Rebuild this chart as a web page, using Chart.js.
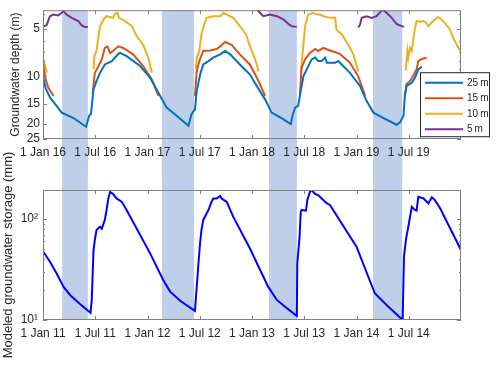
<!DOCTYPE html>
<html>
<head>
<meta charset="utf-8">
<script src="https://cdn.jsdelivr.net/npm/chart.js@4"></script>
<style>
    body { margin: 0; background: #ffffff; }
    #wrap { position: relative; width: 500px; height: 366px; }
    #depth_chart { position: absolute; left: 0; top: 0; z-index: 2; }
    #storage_chart { position: absolute; left: 0; top: 140px; z-index: 1; }
</style>
</head>
<body>
<div id="wrap">
    <canvas id="depth_chart" width="500" height="175"></canvas>
    <canvas id="storage_chart" width="500" height="226"></canvas>
</div>
<script>
// x values are months counted from 1 Jan of the first year of each panel
// (top panel starts 1 Jan 2016, bottom panel starts 1 Jan 2011)
const tick_months = [0, 6, 12, 18, 24, 30, 36, 42]
const depth_tick_labels = ["1 Jan 16", "1 Jul 16", "1 Jan 17", "1 Jul 17", "1 Jan 18", "1 Jul 18", "1 Jan 19", "1 Jul 19"]
const storage_tick_labels = ["1 Jan 11", "1 Jul 11", "1 Jan 12", "1 Jul 12", "1 Jan 13", "1 Jul 13", "1 Jan 14", "1 Jul 14"]

const depth_ticks = [5, 10, 15, 20, 25]
const storage_ticks = [10, 100]
const storage_tick_text = ["10\u00b9", "10\u00b2"]

// shaded periods, [start, end] in months (same positions on both panels)
const shaded_months = [[2.2, 5.15], [13.65, 17.35], [25.95, 29.15], [37.9, 41.25]]

const depth_labels = ["25\u2009m", "15\u2009m", "10\u2009m", "5\u2009m"]
const depth_colours = ["#0072BD", "#D95319", "#EDB120", "#7E2F8E"]

// groundwater depth (m) per sensor depth, [month, depth]; null depth = gap in record
const depth_25m = [
    [0.0, 10.0], [0.3, 11.9], [0.8, 13.6], [1.4, 15.0], [2.15, 17.0], [3.5, 18.4], [4.95, 20.9],
    [5.3, 17.8], [5.5, 17.4], [5.8, 12.1], [6.15, 10.7], [6.55, 9.5], [7.1, 8.4], [7.9, 8.0],
    [8.65, 7.2], [8.85, 7.1], [9.6, 7.45], [11.15, 8.6], [12.3, 10.2], [13.25, 12.7], [14.2, 15.8],
    [15.35, 17.8], [16.7, 20.6], [17.05, 17.4], [17.45, 16.2], [17.65, 12.4], [18.05, 9.7],
    [18.4, 8.4], [19.0, 8.0], [19.55, 7.6], [20.35, 7.25], [20.9, 6.9], [21.5, 7.25], [22.6, 8.4],
    [23.75, 9.7], [24.55, 11.5], [25.5, 14.0], [26.25, 17.0], [27.4, 18.4], [28.45, 20.1],
    [28.65, 17.8], [28.95, 15.8], [29.3, 15.4], [29.5, 13.3], [29.9, 10.0], [30.3, 9.0],
    [30.85, 7.8], [31.25, 7.6], [31.6, 8.0], [32.0, 8.0], [32.4, 7.6], [32.6, 8.2], [33.55, 8.2],
    [33.9, 8.0], [34.3, 8.4], [35.25, 9.5], [36.4, 11.5], [37.15, 14.3], [37.95, 17.0],
    [39.1, 18.4], [40.6, 20.3], [41.0, 19.6], [41.4, 17.8], [41.55, 13.3], [41.75, 11.5],
    [42.35, 11.0], [42.7, 10.2], [43.1, 9.0], [43.5, 8.7],
]
const depth_15m = [
    [0.0, 8.2], [0.3, 10.45], [0.6, 11.8], [1.2, 13.3], [3, null],
    [5.7, 13.0], [5.95, 9.5], [6.3, 8.8], [6.75, 7.8], [7.1, 6.6], [7.4, 6.45], [7.7, 7.1],
    [8.05, 6.9], [8.65, 6.45], [9.2, 6.6], [10.35, 7.25], [11.5, 8.6], [12.5, 10.45], [13.25, 13.3],
    [15, null],
    [17.45, 13.3], [17.65, 9.3], [17.95, 8.0], [18.4, 6.9], [19.2, 6.85], [19.95, 6.7],
    [20.35, 6.45], [20.9, 6.05], [21.65, 6.3], [22.6, 7.25], [23.75, 8.4], [24.75, 10.7],
    [25.5, 13.3], [27, null],
    [29.5, 13.0], [29.7, 8.8], [30.1, 7.8], [30.65, 7.1], [31.25, 6.7], [31.6, 6.9], [32.2, 6.6],
    [32.95, 6.85], [34.1, 7.2], [35.25, 8.2], [36.2, 10.0], [37.0, 13.3], [39, null],
    [41.55, 13.3], [41.75, 11.2], [42.15, 10.7], [42.55, 9.8], [42.9, 9.0], [43.1, 8.0],
    [43.5, 7.75], [44.05, 7.6],
]
const depth_10m = [
    [0.0, 7.6], [0.25, 8.6], [0.45, 9.5], [3, null],
    [5.8, 9.0], [5.9, 7.45], [6.15, 6.9], [6.35, 5.7], [6.55, 4.8], [6.95, 4.35], [7.3, 4.15],
    [7.7, 4.2], [8.05, 4.25], [8.25, 4.0], [8.55, 3.95], [8.75, 4.25], [9.4, 4.45], [10.2, 4.8],
    [10.75, 5.55], [11.5, 6.3], [12.1, 7.6], [12.5, 9.5], [15, null],
    [17.55, 9.0], [17.65, 7.6], [17.95, 6.9], [18.2, 5.4], [18.5, 4.7], [18.8, 4.25],
    [19.55, 4.15], [20.35, 4.15], [20.7, 3.95], [21.1, 4.05], [21.85, 4.25], [22.6, 4.8],
    [23.3, 5.4], [23.8, 6.5], [24.5, 8.2], [24.75, 9.3], [27, null],
    [29.6, 9.5], [29.8, 7.25], [30.1, 4.8], [30.45, 4.05], [31.05, 3.95], [31.45, 4.05],
    [31.8, 4.05], [32.2, 4.15], [32.95, 4.25], [33.55, 4.25], [33.7, 5.05], [34.3, 5.4],
    [35.05, 6.3], [35.65, 7.25], [36.2, 9.3], [39, null],
    [41.65, 9.2], [41.85, 6.9], [41.95, 7.6], [42.15, 6.6], [42.35, 6.9], [42.55, 5.7],
    [42.7, 5.05], [42.9, 4.45], [43.3, 4.5], [43.7, 4.45], [44.05, 4.6], [44.25, 4.8],
    [44.8, 4.45], [45.4, 4.2], [45.95, 4.45], [46.75, 5.05], [47.1, 5.7], [47.7, 6.6], [48, 6.9],
]
const depth_5m = [
    [0.0, 4.8], [0.4, 4.75], [0.8, 4.15], [1.2, 4.05], [1.75, 4.1], [2.15, 3.95], [2.35, 3.86],
    [2.7, 4.05], [3.3, 4.25], [4.05, 4.45], [4.45, 4.75], [4.8, 4.85], [5.15, 4.85], [10, null],
    [24.4, 3.6], [24.75, 3.86], [25.3, 4.15], [26.05, 4.05], [26.85, 4.15], [27.6, 4.35],
    [28.2, 4.65], [28.55, 4.8], [29.15, 4.85], [33, null],
    [36.2, 4.9], [36.4, 4.7], [36.6, 4.25], [37.15, 4.15], [37.75, 4.25], [38.3, 4.15],
    [39.0, 3.77], [39.45, 3.95], [40.05, 4.25], [40.6, 4.65], [41.0, 4.75], [41.45, 4.85],
]

// modeled groundwater storage (mm), [month, storage]
const storage_mm = [
    [0.0, 48], [0.8, 37.8], [1.55, 29], [2.35, 21.4], [3.1, 17.7], [4.25, 14.4], [5.45, 11.8],
    [5.6, 15.8], [5.8, 49], [5.95, 62], [6.15, 78], [6.35, 81], [6.55, 84], [6.75, 80], [6.95, 90],
    [7.1, 98], [7.3, 123], [7.5, 160], [7.7, 186], [8.05, 177], [8.45, 160], [9.05, 148],
    [9.6, 123], [12.3, 45.7], [13.8, 24.9], [14.6, 19.1], [15.75, 15.5], [17.45, 12.3],
    [17.85, 36.4], [18.05, 59.6], [18.2, 78], [18.4, 98], [18.8, 114], [19.0, 123], [19.35, 148],
    [19.55, 160], [19.95, 160], [20.35, 169], [20.5, 160], [21.1, 148], [21.85, 105],
    [23.75, 51.3], [25.85, 21.4], [26.85, 15.8], [28.0, 13.1], [29.15, 10.96], [29.2, 36.4],
    [29.45, 64.4], [29.6, 118], [29.7, 123], [30.2, 121], [30.35, 154], [30.65, 186],
    [30.85, 194], [31.25, 177], [31.6, 173], [32.0, 160], [32.6, 143], [32.95, 138],
    [36.0, 53.2], [38.1, 18.4], [39.45, 14.1], [41.3, 10.0], [41.45, 42.4], [41.7, 64.4],
    [41.95, 84], [42.35, 132], [42.7, 123], [42.9, 121], [43.1, 166], [43.7, 160], [44.25, 143],
    [44.65, 164], [45.0, 154], [45.6, 128], [48, 49.3],
]

const axis_colour = "#808080"
const text_colour = "#262626"
const band_colour = "#bfcfea"

Chart.defaults.font.family = "'Liberation Sans', Arial, sans-serif"
Chart.defaults.font.size = 12
Chart.defaults.color = text_colour


function line_dataset(label, data, colour)
{
    return {
        label: label,
        data: data,
        borderColor: colour,
        borderWidth: 2,
        pointRadius: 0,
        tension: 0,
        fill: false,
        spanGaps: false,
    }
}

function month_axis(labels, height)
{
    return {
        type: "linear",
        min: 0,
        max: 48,
        afterBuildTicks: axis => { axis.ticks = tick_months.map(value => ({ value })) },
        afterFit: axis => { axis.height = height },
        grid: { display: false, drawTicks: false },
        border: { display: false },
        ticks: {
            padding: 6,
            maxRotation: 0,
            autoSkip: false,
            callback: (value, index) => labels[index],
        },
    }
}

// light blue periods drawn behind everything; they run on through the gap between panels
// (the top canvas sits in front, so its tick labels stay above the bottom canvas' bands)
function shading_plugin(to_canvas_top, to_canvas_bottom)
{
    return {
        id: "shading",
        beforeDraw(chart)
        {
            const { ctx, chartArea, scales: { x } } = chart
            const y0 = to_canvas_top ? 0 : chartArea.top
            const y1 = to_canvas_bottom ? chart.height : chartArea.bottom
            ctx.save()
            ctx.fillStyle = band_colour
            shaded_months.forEach(([start, end]) => {
                const x0 = x.getPixelForValue(start)
                const x1 = x.getPixelForValue(end)
                ctx.fillRect(x0, y0, x1 - x0, y1 - y0)
            })
            ctx.restore()
        }
    }
}

// box round the plot, with tick marks pointing inwards on all four sides
const box_plugin = {
    id: "axis_box",
    afterDraw(chart)
    {
        const { ctx, chartArea: { left, right, top, bottom }, scales: { x, y } } = chart
        ctx.save()
        ctx.strokeStyle = axis_colour
        ctx.lineWidth = 1
        ctx.strokeRect(left + 0.5, top + 0.5, right - left - 1, bottom - top - 1)
        ctx.beginPath()
        x.ticks.forEach(tick => {
            const px = Math.round(x.getPixelForValue(tick.value)) + 0.5
            ctx.moveTo(px, bottom)
            ctx.lineTo(px, bottom - 4)
            ctx.moveTo(px, top)
            ctx.lineTo(px, top + 4)
        })
        const majors = y.ticks.map(tick => tick.value)
        const mark = (value, length) => {
            const py = Math.round(y.getPixelForValue(value)) + 0.5
            ctx.moveTo(left, py)
            ctx.lineTo(left + length, py)
            ctx.moveTo(right, py)
            ctx.lineTo(right - length, py)
        }
        majors.forEach(value => mark(value, 4))
        const low = Math.min(y.min, y.max)
        const high = Math.max(y.min, y.max)
        for (let e = Math.floor(Math.log10(low)); e <= Math.ceil(Math.log10(high)); ++e)
        {
            for (let k = 1; k <= 9; ++k)
            {
                const value = k * Math.pow(10, e)
                if (value > low && value < high && !majors.includes(value))
                {
                    mark(value, 2)
                }
            }
        }
        ctx.stroke()
        ctx.restore()
    }
}

const legend_plugin = {
    id: "depth_legend",
    afterDraw(chart)
    {
        const { ctx, chartArea } = chart
        const box_left = chartArea.right - 41
        const box_top = chartArea.top + 62
        ctx.save()
        ctx.fillStyle = "#ffffff"
        ctx.fillRect(box_left, box_top, 70, 65)
        ctx.strokeStyle = text_colour
        ctx.lineWidth = 1
        ctx.strokeRect(box_left + 0.5, box_top + 0.5, 69, 64)
        ctx.font = "10px 'Liberation Sans', Arial, sans-serif"
        ctx.textBaseline = "middle"
        ctx.textAlign = "left"
        chart.data.datasets.forEach((dataset, i) => {
            const row_y = box_top + 10.5 + i * 15.5
            ctx.strokeStyle = dataset.borderColor
            ctx.lineWidth = 2
            ctx.beginPath()
            ctx.moveTo(box_left + 5, row_y)
            ctx.lineTo(box_left + 43, row_y)
            ctx.stroke()
            ctx.fillStyle = text_colour
            ctx.fillText(dataset.label, box_left + 47, row_y + 0.5)
        })
        ctx.restore()
    }
}


new Chart(document.getElementById("depth_chart"), {
    type: "line",
    data: {
        datasets: [
            line_dataset(depth_labels[0], depth_25m, depth_colours[0]),
            line_dataset(depth_labels[1], depth_15m, depth_colours[1]),
            line_dataset(depth_labels[2], depth_10m, depth_colours[2]),
            line_dataset(depth_labels[3], depth_5m, depth_colours[3]),
        ]
    },
    options: {
        responsive: false,
        animation: false,
        events: [],
        layout: { padding: { left: 0, right: 39, top: 9, bottom: 0 } },
        plugins: { legend: { display: false }, tooltip: { enabled: false } },
        scales: {
            x: month_axis(depth_tick_labels, 36),
            y: {
                type: "logarithmic",
                reverse: true,
                min: 3.8,
                max: 25,
                afterBuildTicks: axis => { axis.ticks = depth_ticks.map(value => ({ value })) },
                afterFit: axis => { axis.width = 43 },
                grid: { display: false, drawTicks: false },
                border: { display: false },
                ticks: { padding: 3, autoSkip: false, callback: value => String(value) },
                title: {
                    display: true,
                    text: "Groundwater depth (m)",
                    font: { size: 12 },
                    padding: { top: 8, bottom: 0 },
                },
            }
        }
    },
    plugins: [shading_plugin(false, true), box_plugin, legend_plugin]
})

new Chart(document.getElementById("storage_chart"), {
    type: "line",
    data: {
        datasets: [
            line_dataset("storage", storage_mm, "#0000FF"),
        ]
    },
    options: {
        responsive: false,
        animation: false,
        events: [],
        layout: { padding: { left: 0, right: 39, top: 50, bottom: 0 } },
        plugins: { legend: { display: false }, tooltip: { enabled: false } },
        scales: {
            x: month_axis(storage_tick_labels, 46),
            y: {
                type: "logarithmic",
                min: 10,
                max: 194,
                afterBuildTicks: axis => { axis.ticks = storage_ticks.map(value => ({ value })) },
                afterFit: axis => { axis.width = 43 },
                grid: { display: false, drawTicks: false },
                border: { display: false },
                ticks: {
                    padding: 5,
                    autoSkip: false,
                    callback: value => storage_tick_text[storage_ticks.indexOf(value)],
                },
                title: {
                    display: true,
                    text: "Modeled groundwater storage (mm)",
                    font: { size: 13 },
                    padding: { top: 1, bottom: 0 },
                },
            }
        }
    },
    plugins: [shading_plugin(true, false), box_plugin]
})
</script>
</body>
</html>
